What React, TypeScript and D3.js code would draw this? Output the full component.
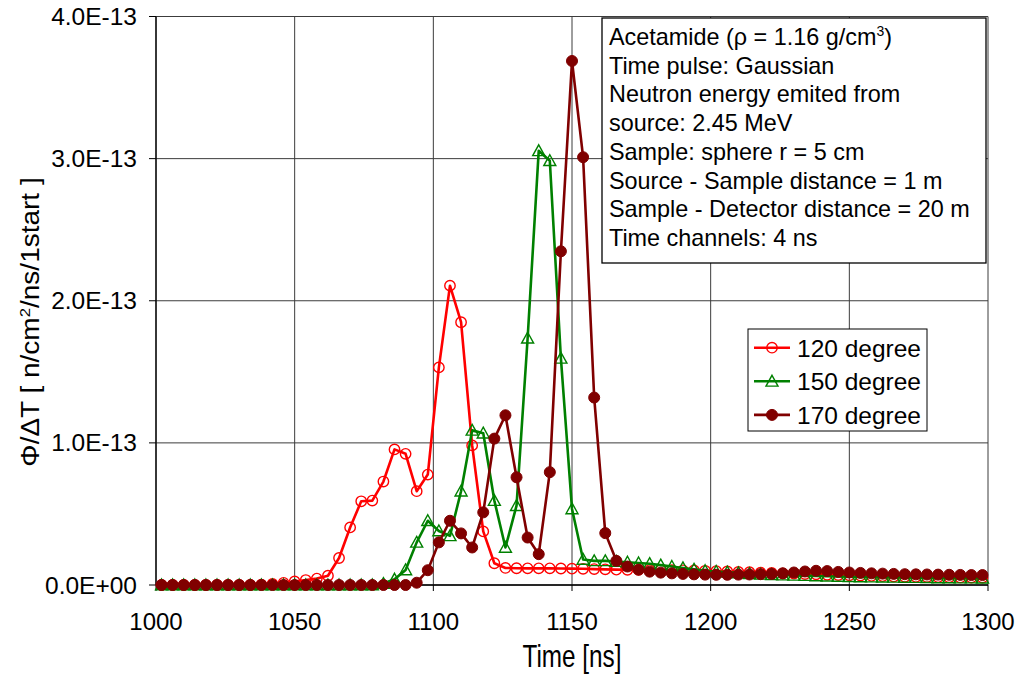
import React from "react";
import * as d3 from "d3";

const times: number[] = d3.range(1002, 1300, 4);

// values in units of 1E-13 n/cm2/ns/1start
const deg120: number[] = [
  0, 0, 0, 0, 0, 0, 0, 0, 0, 0.002,
  0.008, 0.015, 0.025, 0.035, 0.045, 0.065, 0.19, 0.405, 0.589, 0.594,
  0.728, 0.954, 0.923, 0.66, 0.777, 1.531, 2.106, 1.849, 0.982, 0.377,
  0.153, 0.12, 0.118, 0.117, 0.117, 0.117, 0.116, 0.115, 0.114, 0.112,
  0.11, 0.108, 0.107, 0.106, 0.105, 0.105, 0.104, 0.103, 0.102, 0.1,
  0.098, 0.095, 0.092, 0.09, 0.087, 0.085, 0.082, 0.08, 0.077, 0.075,
  0.072, 0.07, 0.068, 0.066, 0.064, 0.062, 0.06, 0.058, 0.057, 0.056,
  0.055, 0.054, 0.053, 0.052, 0.052,
];

const deg150: number[] = [
  0, 0, 0, 0, 0, 0, 0, 0, 0, 0,
  0, 0, 0, 0, 0, 0, 0, 0, 0, 0,
  0.01, 0.04, 0.106, 0.3, 0.452, 0.38, 0.346, 0.66, 1.088, 1.068,
  0.594, 0.264, 0.558, 1.736, 3.055, 2.985, 1.595, 0.535, 0.18, 0.17,
  0.17, 0.165, 0.16, 0.155, 0.15, 0.14, 0.13, 0.12, 0.11, 0.1,
  0.095, 0.09, 0.085, 0.08, 0.075, 0.072, 0.07, 0.068, 0.066, 0.064,
  0.062, 0.06, 0.058, 0.057, 0.056, 0.055, 0.054, 0.053, 0.052, 0.051,
  0.05, 0.05, 0.049, 0.049, 0.048,
];

const deg170: number[] = [
  0, 0, 0, 0, 0, 0, 0, 0, 0, 0,
  0, 0, 0, 0, 0, 0, 0, 0, 0, 0,
  0, 0, 0, 0.016, 0.104, 0.3, 0.452, 0.363, 0.264, 0.511,
  1.03, 1.194, 0.758, 0.334, 0.217, 0.794, 2.348, 3.687, 3.01, 1.319,
  0.365, 0.17, 0.13, 0.108, 0.094, 0.087, 0.082, 0.078, 0.075, 0.073,
  0.072, 0.072, 0.073, 0.074, 0.076, 0.078, 0.082, 0.088, 0.095, 0.1,
  0.098, 0.092, 0.088, 0.085, 0.082, 0.08, 0.078, 0.076, 0.075, 0.074,
  0.073, 0.072, 0.071, 0.07, 0.07,
];

const seriesNames: string[] = ["120 degree", "150 degree", "170 degree"];
const seriesColors: string[] = ["#ff0000", "#008000", "#800000"];
const seriesMarkers: string[] = ["circleOpen", "triangleOpen", "circleFilled"];

const xTicks: number[] = [1000, 1050, 1100, 1150, 1200, 1250, 1300];
const yTicks: number[] = [0, 1e-13, 2e-13, 3e-13, 4e-13];
const yTickLabels: string[] = ["0.0E+00", "1.0E-13", "2.0E-13", "3.0E-13", "4.0E-13"];

const infoLines: string[] = [
  "Time pulse: Gaussian",
  "Neutron energy emited from",
  "source: 2.45 MeV",
  "Sample: sphere r = 5 cm",
  "Source - Sample distance = 1 m",
  "Sample - Detector distance = 20 m",
  "Time channels: 4 ns",
];

const FONT = "'Liberation Sans', Arial, Helvetica, sans-serif";

function Marker({ kind, x, y, color }: { kind: string; x: number; y: number; color: string }) {
  if (kind === "circleOpen") {
    return <circle cx={x} cy={y} r={5.2} fill="none" stroke={color} strokeWidth={1.4} />;
  }
  if (kind === "circleFilled") {
    return <circle cx={x} cy={y} r={5.5} fill={color} stroke={color} strokeWidth={1} />;
  }
  const s = 6;
  const pts = `${x},${y - s} ${x + s},${y + s * 0.8} ${x - s},${y + s * 0.8}`;
  return <polygon points={pts} fill="none" stroke={color} strokeWidth={1.4} />;
}

export default function App() {
  const W = 1018;
  const H = 675;
  const x = d3.scaleLinear().domain([1000, 1300]).range([156, 988]);
  const y = d3.scaleLinear().domain([0, 4e-13]).range([585, 16.5]);

  const seriesData = [deg120, deg150, deg170].map((vals) =>
    vals.map((v, i) => ({ t: times[i], v: v * 1e-13 }))
  );

  const line = d3
    .line<{ t: number; v: number }>()
    .x((d) => x(d.t))
    .y((d) => y(d.v));

  const legendX = 748;
  const legendY = 329;
  const legendW = 179;
  const legendH = 102;

  return (
    <svg
      width={W}
      height={H}
      style={{ position: "absolute", left: 0, top: 0, background: "#fff" }}
      fontFamily={FONT}
    >
      <rect x={0} y={0} width={W} height={H} fill="#fff" />
      {/* gridlines */}
      {xTicks.map((t) => (
        <line key={"gx" + t} x1={x(t)} x2={x(t)} y1={y(4e-13)} y2={y(0)} stroke="#3c3c3c" strokeWidth={1} />
      ))}
      {yTicks.map((t) => (
        <line key={"gy" + t} x1={x(1000)} x2={x(1300)} y1={y(t)} y2={y(t)} stroke="#3c3c3c" strokeWidth={1} />
      ))}
      {/* axes */}
      <line x1={x(1000)} x2={x(1000)} y1={y(4e-13)} y2={y(0)} stroke="#000" strokeWidth={1.3} />
      <line x1={x(1000)} x2={x(1300)} y1={y(0)} y2={y(0)} stroke="#000" strokeWidth={1.3} />
      {xTicks.map((t) => (
        <g key={"xt" + t}>
          <line x1={x(t)} x2={x(t)} y1={y(0)} y2={y(0) + 6} stroke="#000" strokeWidth={1} />
          <text x={x(t)} y={629.5} textAnchor="middle" fontSize={24} fill="#000">
            {t}
          </text>
        </g>
      ))}
      {yTicks.map((t, i) => (
        <g key={"yt" + t}>
          <line x1={x(1000) - 7} x2={x(1000)} y1={y(t)} y2={y(t)} stroke="#000" strokeWidth={1} />
          <text x={137} y={y(t) + 8.5} textAnchor="end" fontSize={24.5} fill="#000">
            {yTickLabels[i]}
          </text>
        </g>
      ))}
      {/* axis titles */}
      <text transform="translate(572,667) scale(1,1.3)" textAnchor="middle" fontSize={24.3} fill="#000">
        Time [ns]
      </text>
      <text transform="translate(39,322) rotate(-90) scale(1.12,1)" textAnchor="middle" fontSize={25} fill="#000">
        Φ/ΔT [ n/cm
        <tspan dy={-9} fontSize={15}>2</tspan>
        <tspan dy={9}>/ns/1start ]</tspan>
      </text>
      {/* series */}
      {seriesData.map((data, si) => (
        <g key={"s" + si}>
          <path d={line(data) || ""} fill="none" stroke={seriesColors[si]} strokeWidth={2.6} strokeLinejoin="round" />
          {data.map((d, i) => (
            <Marker key={i} kind={seriesMarkers[si]} x={x(d.t)} y={y(d.v)} color={seriesColors[si]} />
          ))}
        </g>
      ))}
      {/* info box */}
      <rect x={602} y={18} width={384} height={245} fill="#fff" stroke="#000" strokeWidth={1.3} />
      <text x={609} y={45} fontSize={23.4} fill="#000">
        Acetamide (ρ = 1.16 g/cm
        <tspan dy={-9} fontSize={14}>3</tspan>
        <tspan dy={9}>)</tspan>
      </text>
      {infoLines.map((s, i) => (
        <text key={"info" + i} x={609} y={45 + 28.7 * (i + 1)} fontSize={23.4} fill="#000">
          {s}
        </text>
      ))}
      {/* legend */}
      <rect x={legendX} y={legendY} width={legendW} height={legendH} fill="#fff" stroke="#000" strokeWidth={1} />
      {seriesNames.map((name, i) => {
        const cy = 347.7 + 33.6 * i;
        return (
          <g key={"lg" + i}>
            <line x1={754} x2={790} y1={cy} y2={cy} stroke={seriesColors[i]} strokeWidth={2.6} />
            <Marker kind={seriesMarkers[i]} x={772} y={cy} color={seriesColors[i]} />
            <text x={797} y={cy + 9} fontSize={24.5} fill="#000">
              {name}
            </text>
          </g>
        );
      })}
    </svg>
  );
}
